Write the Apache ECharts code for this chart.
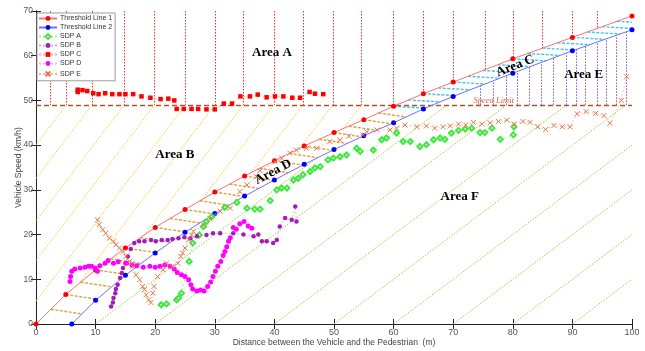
<!DOCTYPE html>
<html>
<head>
<meta charset="utf-8">
<script src="https://cdn.jsdelivr.net/npm/echarts@6/dist/echarts.min.js"></script>
<style>
  html, body { margin: 0; padding: 0; background: #fff; }
  #chart { width: 645px; height: 351px; }
</style>
</head>
<body>
<div id="chart"></div>
<script>
// ---- Threshold lines (distance m, speed km/h) ----
const threshold1X = [0, 5, 10, 15, 20, 25, 30, 35, 40, 45, 50, 55, 60, 65, 70, 80, 90, 100];
const threshold1Y = [0, 6.6, 12.1, 17.0, 21.6, 25.6, 29.5, 33.1, 36.5, 39.8, 42.8, 45.7, 48.7, 51.5, 54.1, 59.3, 64.1, 68.9];
const threshold2X = [6, 10, 15, 20, 25, 30, 35, 40, 45, 50, 55, 60, 65, 70, 80, 90, 100];
const threshold2Y = [0, 5.3, 10.9, 15.9, 20.5, 24.7, 28.6, 32.2, 35.7, 39.0, 42.1, 45.0, 48.1, 50.9, 56.1, 61.1, 65.8];
const speedLimit = 49;

// ---- Measured speed-distance profiles ----
const sdpAX = [21.0, 21.9, 23.6, 23.9, 24.4, 25.7, 26.3, 27.4, 28.1, 28.6, 29.5, 31.7, 33.7, 35.4, 36.7, 37.6, 39.3, 40.4, 41.2, 42.1, 43.2, 44.0, 44.8, 46.0, 46.8, 47.7, 49.0, 49.9, 51.0, 52.1, 53.8, 54.4, 56.6, 58.0, 58.8, 60.5, 61.6, 62.8, 64.4, 65.5, 66.7, 67.8, 68.6, 69.7, 70.9, 72.0, 73.1, 74.5, 75.3, 76.5, 77.9, 80.1, 80.2];
const sdpAY = [4.3, 4.5, 5.4, 5.8, 6.9, 14.0, 18.1, 19.9, 21.8, 22.9, 24.0, 26.1, 27.2, 25.9, 25.7, 25.7, 27.6, 30.0, 30.4, 30.4, 32.2, 32.6, 33.4, 34.1, 34.9, 35.2, 36.7, 37.1, 37.4, 37.8, 39.3, 38.6, 38.9, 41.2, 41.6, 42.7, 40.8, 40.8, 39.7, 40.1, 41.2, 41.6, 41.3, 42.7, 43.3, 43.6, 43.8, 42.8, 42.8, 43.8, 41.3, 42.3, 44.1];

const sdpBX = [12.6, 12.9, 13.0, 13.3, 13.4, 13.7, 14.1, 14.4, 14.6, 15.0, 15.4, 15.9, 16.5, 17.3, 18.2, 19.3, 20.1, 21.1, 22.1, 22.9, 23.9, 24.9, 25.9, 27.0, 28.6, 29.7, 30.9, 33.1, 34.8, 36.5, 37.3, 37.9, 38.7, 39.8, 40.4, 40.9, 41.8, 42.9, 43.5, 43.7];
const sdpBY = [3.9, 4.8, 5.8, 6.9, 7.8, 8.8, 10.3, 11.4, 12.5, 13.6, 15.1, 16.8, 18.1, 18.5, 18.5, 18.8, 18.5, 18.8, 18.8, 19.0, 19.2, 19.4, 19.2, 19.6, 19.9, 20.3, 20.3, 20.3, 20.0, 19.6, 20.0, 18.5, 18.5, 18.1, 18.8, 21.8, 23.7, 23.3, 26.3, 22.9];

const sdpCX = [7.0, 7.0, 7.8, 8.6, 9.6, 10.5, 11.6, 12.8, 14.0, 15.0, 16.3, 17.7, 19.2, 20.9, 22.2, 23.2, 23.6, 24.8, 26.1, 27.2, 28.6, 30.0, 31.5, 32.9, 34.3, 35.9, 37.2, 38.7, 40.1, 41.5, 43.0, 44.3, 45.9, 46.8, 48.2];
const sdpCY = [52.4, 51.9, 52.3, 52.1, 51.6, 51.4, 51.6, 51.4, 51.4, 51.4, 51.4, 50.9, 50.6, 50.3, 50.4, 50.0, 48.1, 48.1, 48.1, 48.1, 48.0, 48.0, 49.3, 49.3, 50.9, 50.9, 51.3, 50.7, 50.9, 50.9, 50.6, 50.6, 51.9, 51.5, 51.4];

const sdpDX = [5.7, 5.8, 6.0, 6.5, 7.4, 8.2, 8.8, 9.3, 9.9, 10.3, 10.7, 11.6, 12.1, 13.0, 13.8, 15.2, 16.1, 16.9, 18.0, 19.1, 20.0, 20.8, 21.6, 22.5, 23.2, 23.7, 24.4, 25.0, 25.6, 26.0, 26.3, 27.0, 27.6, 28.2, 28.8, 29.3, 29.7, 30.1, 30.5, 31.0, 31.4, 31.7, 32.0, 32.3, 32.6, 33.1, 33.6, 34.2, 34.9, 35.6, 36.2];
const sdpDY = [9.5, 10.6, 11.8, 12.3, 12.5, 12.7, 12.9, 12.9, 12.5, 11.8, 13.0, 13.6, 14.2, 13.6, 13.9, 13.6, 13.2, 13.0, 12.7, 12.9, 12.7, 12.9, 13.2, 12.9, 12.3, 11.5, 11.0, 10.6, 9.9, 8.8, 7.8, 7.4, 7.6, 7.4, 8.4, 9.4, 10.6, 11.8, 12.9, 14.0, 15.3, 16.2, 17.3, 18.5, 19.3, 21.6, 21.2, 22.4, 22.9, 21.9, 21.4];

const sdpEX = [10.3, 10.6, 11.2, 11.7, 12.3, 13.0, 13.4, 14.0, 14.6, 15.1, 15.7, 16.2, 16.8, 17.4, 17.9, 18.2, 18.5, 18.9, 19.3, 19.6, 19.8, 20.4, 21.3, 21.9, 22.9, 23.8, 24.3, 24.6, 25.0, 25.6, 26.1, 26.4, 28.1, 29.2, 30.9, 32.6, 34.2, 35.4, 37.0, 37.6, 40.1, 41.2, 42.6, 43.7, 45.4, 47.1, 49.3, 51.0, 52.5, 54.9, 55.5, 57.2, 59.4, 60.5, 61.9, 63.9, 65.5, 66.9, 68.3, 69.5, 70.9, 72.1, 73.4, 74.8, 76.2, 77.6, 79.0, 80.2, 81.7, 82.9, 84.2, 85.5, 86.9, 88.3, 89.6, 90.8, 92.3, 93.9, 95.3, 96.3, 98.2, 99.1];
const sdpEY = [23.3, 22.2, 21.1, 20.3, 19.2, 18.5, 17.7, 17.0, 16.2, 15.1, 14.0, 12.9, 11.0, 9.9, 8.4, 7.7, 6.5, 5.4, 4.8, 6.9, 8.4, 10.6, 12.1, 13.6, 12.9, 13.6, 15.1, 15.9, 17.0, 18.8, 19.9, 20.7, 22.2, 23.5, 25.2, 25.9, 29.6, 31.1, 33.0, 34.3, 36.3, 37.1, 38.2, 38.9, 39.3, 39.3, 40.8, 41.2, 42.0, 42.3, 43.0, 43.4, 43.4, 43.8, 44.5, 44.1, 44.3, 43.8, 44.1, 44.3, 44.7, 44.5, 45.1, 44.7, 45.0, 45.3, 45.6, 44.7, 45.3, 45.1, 44.1, 43.5, 44.4, 44.1, 44.1, 47.0, 47.5, 47.1, 46.6, 44.9, 50.0, 55.3];

// ---- Hatch positions for the shaded regions ----
const hatchAX = [2.4, 5.1, 9.4, 14.8, 19.9, 25.1, 30.0, 34.8, 39.9, 44.8, 49.8, 54.6, 60.0, 64.9, 70.0, 75.3, 80.0, 85.0, 90.0, 94.2];
const hatchBTopX = [5.1, 9.4, 14.8, 19.9, 25.1, 30.0, 34.8, 39.9, 44.8, 49.8, 54.6];
const hatchDStartX = [2.5, 5, 7.5, 10, 12.5, 15, 17.5, 20, 22.5, 25, 27.5, 30, 32.5, 35, 37.5, 40, 42.5, 45, 47.5, 50, 52.5, 55, 57.5];
const hatchCStartX = [60, 62.5, 65, 67.5, 70, 72.5, 75, 77.5, 80, 82.5, 85, 87.5, 90, 92.5, 95, 97.5];
const hatchEX = [74.5, 76.7, 78.9, 80.7, 82.7, 84.8, 86.8, 88.9, 90.7, 92.1, 94.1, 95.7, 97.4, 99.1];
const hatchFBaseX = [10, 20, 30, 40, 50, 60, 70, 80, 90];
const hatchBSlope = 1.75;
const hatchDSlope = -0.2;
const hatchCSlope = -0.08;

// ---- Region names placed in data space ----
const regionLabels = [
  { text: 'Area A', x: 39.6, y: 60.6, rot: 0 },
  { text: 'Area B', x: 23.3, y: 37.8, rot: 0 },
  { text: 'Area C', x: 80.4, y: 57.7, rot: 22 },
  { text: 'Area D', x: 39.8, y: 34.0, rot: 28 },
  { text: 'Area E', x: 91.9, y: 55.7, rot: 0 },
  { text: 'Area F', x: 71.1, y: 28.4, rot: 0 }
];
const speedLimitLabel = { text: 'Speed Limit', x: 76.8, y: 50.0 };

// piecewise-linear evaluation of a polyline (with end extrapolation)
function interp(xs, ys, x) {
  const n = xs.length;
  if (x <= xs[0]) return ys[0] + (ys[1] - ys[0]) / (xs[1] - xs[0]) * (x - xs[0]);
  for (let i = 1; i < n; i++) {
    if (x <= xs[i]) {
      const t = (x - xs[i - 1]) / (xs[i] - xs[i - 1]);
      return ys[i - 1] + t * (ys[i] - ys[i - 1]);
    }
  }
  return ys[n - 1] + (ys[n - 1] - ys[n - 2]) / (xs[n - 1] - xs[n - 2]) * (x - xs[n - 1]);
}
const line1 = x => interp(threshold1X, threshold1Y, x);
const line2 = x => interp(threshold2X, threshold2Y, x);

// bisection root finder
function root(f, a, b) {
  let fa = f(a);
  for (let i = 0; i < 60; i++) {
    const m = (a + b) / 2, fm = f(m);
    if ((fa < 0) === (fm < 0)) { a = m; fa = fm; } else { b = m; }
  }
  return (a + b) / 2;
}

const pairs = (xs, ys) => xs.map((x, i) => [x, ys[i]]);
const seg = (p, q) => ({ coords: [p, q] });

// Area A: verticals from the top down to the speed limit / threshold line 1
const segA = hatchAX.map(x => seg([x, 70], [x, Math.max(speedLimit, line1(x))]));

// Area B: slanted lines ending on the speed limit
const segB = hatchBTopX.map(xt => {
  const f = x => speedLimit + hatchBSlope * (x - xt);
  const xl = Math.max(0, xt - speedLimit / hatchBSlope);
  const h = x => f(x) - line1(x);
  const xs = h(xl) < 0 ? root(h, xl, xt) : xl;
  return seg([xs, f(xs)], [xt, speedLimit]);
});

// Areas D and C: short strokes from threshold line 1 across to threshold line 2
function bandSegments(startXs, slope) {
  return startXs.map(xs => {
    const y0 = line1(xs);
    const g = x => y0 + slope * (x - xs) - line2(x);
    const xe = root(g, xs, 100);
    return seg([xs, y0], [xe, y0 + slope * (xe - xs)]);
  });
}
const segD = bandSegments(hatchDStartX, hatchDSlope);
const segC = bandSegments(hatchCStartX, hatchCSlope);

// Area E: verticals from the speed limit up to threshold line 2
const segE = hatchEX.map(x => seg([x, speedLimit], [x, line2(x)]));

// Area F: unit-slope lines rising from the distance axis
const segF = hatchFBaseX.map(x0 => {
  const k = x => (x - x0) - line2(x);
  let xe = Math.min(x0 + speedLimit, 100);
  if (k(xe) > 0) xe = root(k, x0, xe);
  return seg([x0, 0], [xe, xe - x0]);
});

function hatch(name, data, color, width, dash) {
  return {
    type: 'lines', name: name, coordinateSystem: 'cartesian2d', silent: true, z: 1,
    data: data, symbol: 'none', animation: false,
    lineStyle: { color: color, width: width, type: dash, opacity: 1 }
  };
}

function sdp(name, xs, ys, symbol, size, markColor, lineColor, extraItem) {
  return {
    type: 'line', name: name, data: pairs(xs, ys), z: 5,
    symbol: symbol, symbolSize: size, showAllSymbol: true,
    itemStyle: Object.assign({ color: markColor }, extraItem || {}),
    lineStyle: { color: lineColor, width: 0.8, type: [2, 2] }
  };
}

const crossPath = 'path://M0,0L10,10M10,0L0,10';

const chart = echarts.init(document.getElementById('chart'), null, { renderer: 'canvas' });
const FONT = 'Liberation Sans';

const option = {
  animation: false,
  backgroundColor: '#ffffff',
  textStyle: { fontFamily: FONT },
  grid: { left: 36, right: 13, top: 11, bottom: 27, containLabel: false, outerBoundsMode: 'none' },
  legend: {
    orient: 'vertical', left: 37, top: 13,
    backgroundColor: '#ffffff', borderColor: '#9a9a9a', borderWidth: 1,
    padding: [2, 3, 2, 1], itemGap: 2, itemWidth: 18, itemHeight: 6,
    textStyle: { fontSize: 7, lineHeight: 7, color: '#333', fontFamily: FONT, padding: [0, 0, 0, -2] },
    data: ['Threshold Line 1', 'Threshold Line 2', 'SDP A', 'SDP B', 'SDP C', 'SDP D', 'SDP E'],
    z: 20
  },
  xAxis: [{
    type: 'value', min: 0, max: 100, interval: 10, position: 'bottom',
    name: 'Distance between the Vehicle and the Pedestrian  (m)',
    nameLocation: 'middle', nameGap: 14, nameMoveOverlap: false,
    nameTextStyle: { fontSize: 8.5, color: '#444', fontFamily: FONT },
    axisLine: { lineStyle: { color: '#222', width: 1 } },
    axisTick: { inside: true, length: 5, lineStyle: { color: '#222' } },
    axisLabel: { fontSize: 9, color: '#555', margin: 4, fontFamily: FONT },
    splitLine: { show: false }
  }, {
    type: 'value', min: 0, max: 100, interval: 10, position: 'top',
    axisLine: { lineStyle: { color: '#222', width: 1 } },
    axisTick: { inside: true, length: 5, lineStyle: { color: '#222' } },
    axisLabel: { show: false }, splitLine: { show: false }
  }],
  yAxis: [{
    type: 'value', min: 0, max: 70, interval: 10, position: 'left',
    name: 'Vehicle Speed (km/h)', nameLocation: 'middle', nameGap: 13, nameMoveOverlap: false,
    nameTextStyle: { fontSize: 8.5, color: '#444', fontFamily: FONT },
    axisLine: { show: true, lineStyle: { color: '#222', width: 1 } },
    axisTick: { show: true, inside: true, length: 5, lineStyle: { color: '#222' } },
    axisLabel: { fontSize: 8.5, color: '#555', margin: 3, fontFamily: FONT },
    splitLine: { show: false }
  }, {
    type: 'value', min: 0, max: 70, interval: 10, position: 'right',
    axisLine: { show: true, lineStyle: { color: '#222', width: 1 } },
    axisTick: { show: true, inside: true, length: 5, lineStyle: { color: '#222' } },
    axisLabel: { show: false }, splitLine: { show: false }
  }],
  series: [
    hatch('hatchA', segA, '#ff2a2a', 1, [1.5, 1.5]),
    hatch('hatchB', segB, '#ffc52a', 1, [1.5, 1.5]),
    hatch('hatchD', segD, '#d9a441', 1.4, [3, 1.5]),
    hatch('hatchC', segC, '#3fc6f2', 1.4, [3, 1.5]),
    hatch('hatchE', segE, '#8a55c4', 1, [1.5, 1.5]),
    hatch('hatchF', segF, '#9ccf3c', 1, [1.5, 1.5]),
    {
      type: 'lines', name: 'speedLimit', coordinateSystem: 'cartesian2d', silent: true, z: 2,
      data: [seg([0, speedLimit], [100, speedLimit])],
      lineStyle: { color: '#a8582a', width: 1.3, type: [5, 3], opacity: 1 }
    },
    {
      type: 'line', name: 'Threshold Line 1', data: pairs(threshold1X, threshold1Y), z: 4,
      symbol: 'circle', symbolSize: 5, showAllSymbol: true,
      itemStyle: { color: '#ff0000' }, lineStyle: { color: '#ff7070', width: 1 }
    },
    {
      type: 'line', name: 'Threshold Line 2', data: pairs(threshold2X, threshold2Y), z: 4,
      symbol: 'circle', symbolSize: 5, showAllSymbol: true,
      itemStyle: { color: '#0000ff' }, lineStyle: { color: '#7070ff', width: 1 }
    },
    sdp('SDP A', sdpAX, sdpAY, 'emptyDiamond', 5, '#3ee83e', '#9ef09e', { borderWidth: 1 }),
    sdp('SDP B', sdpBX, sdpBY, 'circle', 4.5, '#a21cb8', '#d9a0e4'),
    sdp('SDP C', sdpCX, sdpCY, 'rect', 4.5, '#ff0000', '#ffaaaa'),
    sdp('SDP D', sdpDX, sdpDY, 'circle', 5, '#ff00ff', '#ffb0ff'),
    sdp('SDP E', sdpEX, sdpEY, crossPath, 5, 'none', '#f6b894',
        { borderColor: '#e8764a', borderWidth: 1 })
  ]
};
chart.setOption(option);

// region names and the speed-limit caption, positioned through the axes
const graphics = regionLabels.map(l => {
  const p = chart.convertToPixel({ gridIndex: 0 }, [l.x, l.y]);
  return {
    type: 'text', x: p[0], y: p[1], rotation: l.rot * Math.PI / 180, z: 30,
    style: {
      text: l.text, fill: '#000', font: 'bold 13px "Liberation Serif"',
      align: 'center', verticalAlign: 'middle'
    }
  };
});
const sp = chart.convertToPixel({ gridIndex: 0 }, [speedLimitLabel.x, speedLimitLabel.y]);
graphics.push({
  type: 'text', x: sp[0], y: sp[1], z: 30,
  style: {
    text: speedLimitLabel.text, fill: '#d2692e', font: 'italic 8.5px "Liberation Serif"',
    align: 'center', verticalAlign: 'middle'
  }
});
chart.setOption({ graphic: graphics });
</script>
</body>
</html>
